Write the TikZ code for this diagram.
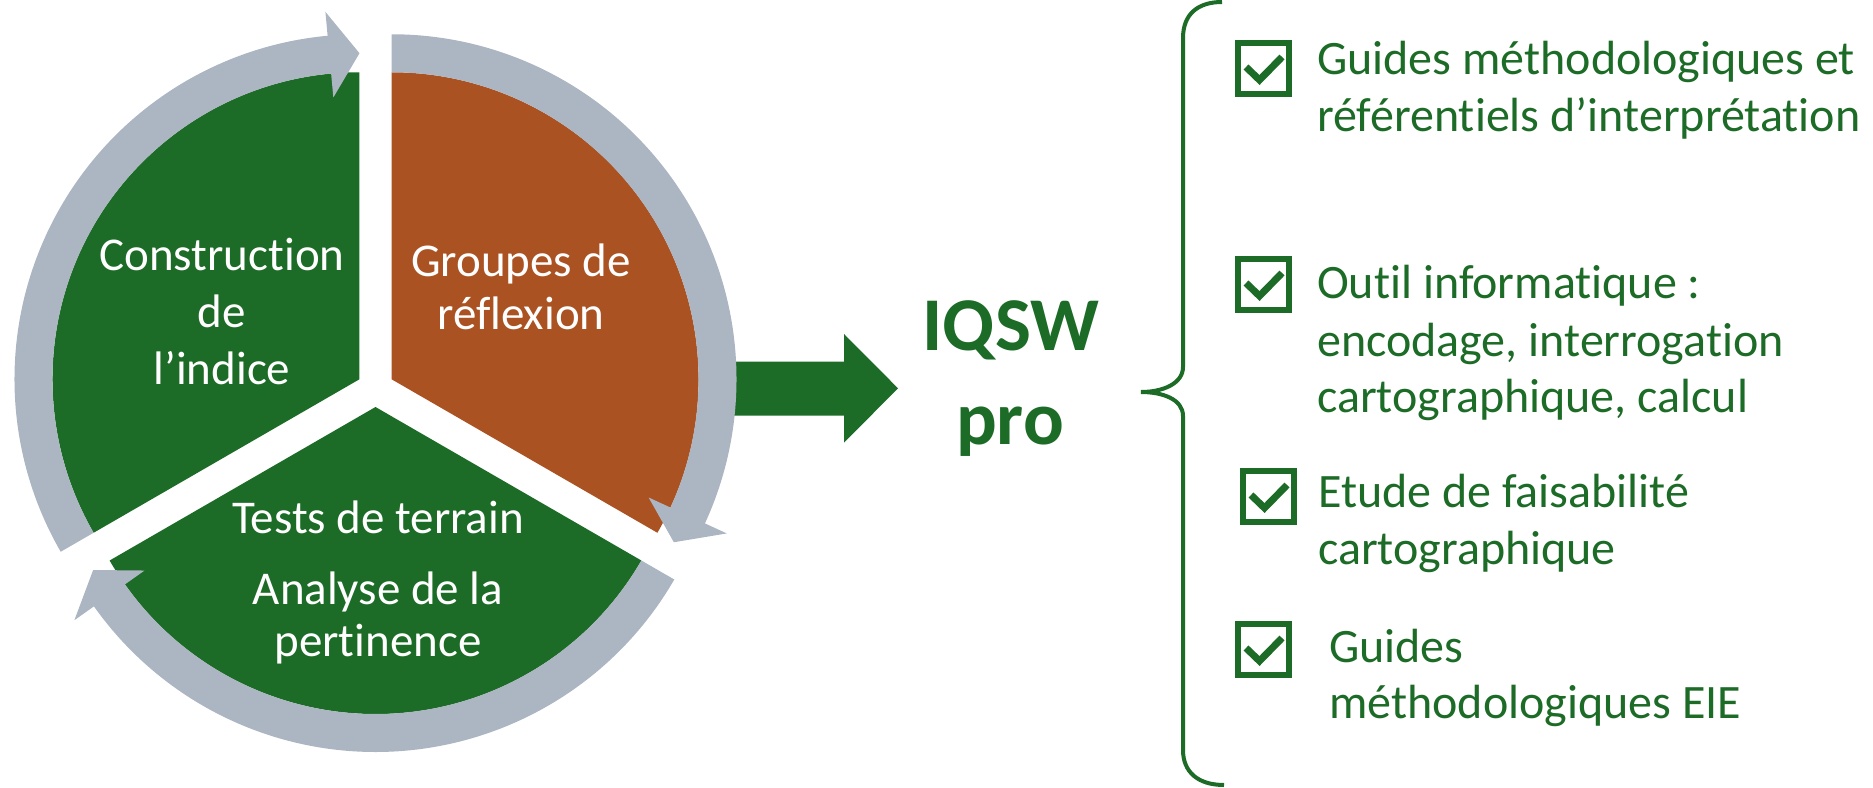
\documentclass[tikz,border=0pt]{standalone}
\usepackage{fontspec}
\setmainfont{Carlito}[Ligatures={NoCommon}]
\usetikzlibrary{calc}
\definecolor{pgreen}{RGB}{28,107,38}
\definecolor{porange}{RGB}{171,82,35}
\definecolor{pgray}{RGB}{171,182,194}
\newcommand\ringarrow[3]{%
  \fill[pgray] ($(#1)+(#2:345pt)$) arc[start angle=#2, end angle={#3+5.3}, radius=345pt]
    -- ($(#1)+({#3+5.3}:369pt)$) -- ($(#1)+(#3:326pt)$) -- ($(#1)+({#3+5.3}:283pt)$)
    -- ($(#1)+({#3+5.3}:307pt)$) arc[start angle={#3+5.3}, end angle=#2, radius=307pt] -- cycle;}
\newcommand\sector[4]{%
  \fill[#4] (#1) -- ($(#1)+(#2:307pt)$) arc[start angle=#2, end angle=#3, radius=307pt] -- cycle;}
\newcommand\chkbox[2]{%
  \draw[cbox] (#1+3,-#2-3) rectangle (#1+54,-#2-54);
  \draw[tick] (#1+11,-#2-27) -- (#1+24.5,-#2-40) -- (#1+47,-#2-17);}
\begin{document}
\begin{tikzpicture}[x=1pt,y=1pt,
  seclbl/.style={anchor=base, text=white, font=\fontsize{47}{57}\selectfont, inner sep=0pt},
  itemlbl/.style={anchor=base west, text=pgreen, font=\fontsize{48}{58}\selectfont, inner sep=0pt},
  titlelbl/.style={anchor=base, text=pgreen, font=\fontsize{76}{90}\selectfont\bfseries, inner sep=0pt},
  cbox/.style={draw=pgreen, line width=6pt},
  tick/.style={draw=pgreen, line width=7pt, line join=miter},
  bracestyle/.style={draw=pgreen, line width=4pt}]
\useasboundingbox (0,0) rectangle (1873,-787);
% block arrow
\fill[pgreen] (725,-361.7) -- (844,-361.7) -- (844,-334) -- (898,-388.3) -- (844,-442.7) -- (844,-415.7) -- (725,-415.7) -- cycle;
% pie
\coordinate (c) at (375.5,-388.5);
\coordinate (c1) at ($(c)+(150:18.5pt)$);
\coordinate (c2) at ($(c)+(30:18.5pt)$);
\coordinate (c3) at ($(c)+(270:18.5pt)$);
\sector{c1}{90}{210}{pgreen}
\sector{c2}{-30}{90}{porange}
\sector{c3}{210}{330}{pgreen}
\ringarrow{c1}{210}{90}
\ringarrow{c2}{90}{-30}
\ringarrow{c3}{330}{210}
% sector labels
\node[seclbl] (s1a) at (222,-270) {Construction};
\node[seclbl] (s1b) at (222,-327) {de};
\node[seclbl] (s1c) at (222,-384) {l’indice};
\node[seclbl] (s2a) at (521,-276) {Groupes de};
\node[seclbl] (s2b) at (521,-329) {réflexion};
\node[seclbl] (s3a) at (378,-533) {Tests de terrain};
\node[seclbl] (s3b) at (378,-604) {Analyse de la};
\node[seclbl] (s3c) at (378,-656) {pertinence};
% title
\node[titlelbl] (t1) at (1011,-350) {IQSW};
\node[titlelbl] (t2) at (1010,-444) {pro};
% brace
\draw[bracestyle] (1222,-2) .. controls (1198,-2) and (1183,-14) .. (1183,-38)
  -- (1183,-367) .. controls (1183,-384) and (1162,-392) .. (1141,-392)
  .. controls (1162,-392) and (1183,-399) .. (1183,-416)
  -- (1183,-750) .. controls (1183,-772) and (1198,-785) .. (1224,-785);
% checklist
\chkbox{1235}{40}
\chkbox{1235}{256}
\chkbox{1240}{468}
\chkbox{1235}{621}
\node[itemlbl] (i1a) at (1317,-74) {Guides méthodologiques et};
\node[itemlbl] (i1b) at (1317,-131) {référentiels d’interprétation};
\node[itemlbl] (i2a) at (1317,-298) {Outil informatique :};
\node[itemlbl] (i2b) at (1317,-356) {encodage, interrogation};
\node[itemlbl] (i2c) at (1317,-412) {cartographique, calcul};
\node[itemlbl] (i3a) at (1318,-507) {Etude de faisabilité};
\node[itemlbl] (i3b) at (1318,-564) {cartographique};
\node[itemlbl] (i4a) at (1329,-662) {Guides};
\node[itemlbl] (i4b) at (1329,-718) {méthodologiques EIE};
\end{tikzpicture}
\end{document}
